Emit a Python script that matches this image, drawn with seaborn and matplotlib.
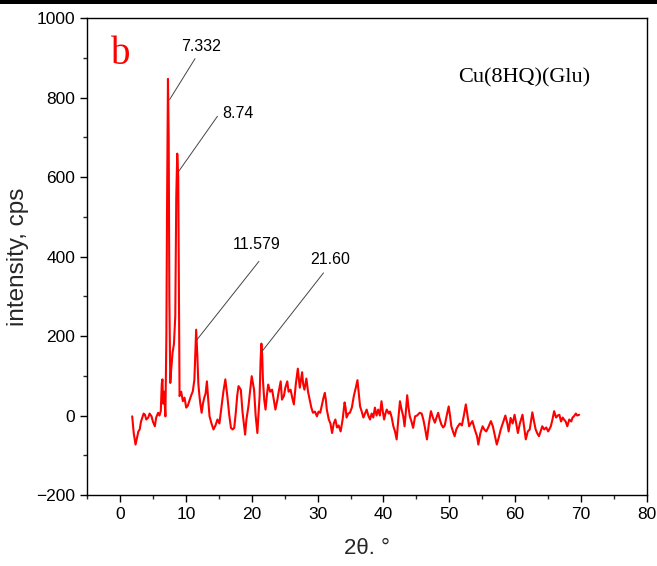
import matplotlib
matplotlib.use("Agg")
import matplotlib.pyplot as plt
import seaborn as sns
import pandas as pd
from matplotlib.patches import Rectangle
from matplotlib.ticker import MultipleLocator

# ---- data ----
two_theta = [
    1.86, 2.1, 2.37, 2.6, 2.8, 3.0, 3.2, 3.4, 3.6, 3.8, 4.0, 4.3, 4.5, 4.8, 5.0, 5.3, 5.5, 5.8, 6.0, 6.2,
    6.35, 6.45, 6.55, 6.7, 6.9, 7.05, 7.15, 7.29, 7.4, 7.5, 7.64, 7.8, 8.0, 8.2, 8.4, 8.55, 8.7, 8.85, 8.95, 9.05,
    9.3, 9.55, 9.8, 10.06, 10.3, 10.6, 10.8, 11.06, 11.3, 11.57, 11.75, 11.9, 12.07, 12.2, 12.4, 12.6, 12.8, 13.0, 13.2, 13.4,
    13.6, 13.9, 14.2, 14.5, 14.8, 15.1, 15.4, 15.7, 16.0, 16.3, 16.6, 16.85, 17.1, 17.35, 17.6, 17.8, 18.0, 18.35, 18.6, 18.8,
    19.0, 19.2, 19.5, 19.75, 20.0, 20.2, 20.36, 20.6, 20.86, 21.05, 21.2, 21.35, 21.47, 21.6, 21.7, 21.9, 22.1, 22.3, 22.5, 22.8,
    23.1, 23.35, 23.6, 23.9, 24.1, 24.4, 24.6, 24.9, 25.1, 25.4, 25.6, 25.9, 26.15, 26.4, 26.7, 27.0, 27.3, 27.65, 27.8, 28.0,
    28.3, 28.55, 28.8, 29.05, 29.3, 29.6, 29.9, 30.15, 30.4, 30.7, 30.9, 31.1, 31.25, 31.4, 31.7, 31.95, 32.2, 32.45, 32.7, 32.95,
    33.2, 33.5, 33.8, 34.1, 34.25, 34.4, 34.65, 34.9, 35.2, 35.5, 35.8, 36.05, 36.25, 36.45, 36.7, 36.95, 37.2, 37.45, 37.7, 37.96,
    38.2, 38.45, 38.7, 38.95, 39.2, 39.45, 39.7, 39.9, 40.1, 40.3, 40.5, 40.8, 41.0, 41.25, 41.5, 41.75, 42.0, 42.25, 42.5, 42.75,
    43.0, 43.2, 43.4, 43.6, 43.8, 44.0, 44.25, 44.5, 44.8, 45.1, 45.5, 45.8, 46.05, 46.3, 46.6, 46.9, 47.2, 47.5, 47.8, 48.05,
    48.3, 48.55, 48.8, 49.05, 49.3, 49.6, 49.9, 50.1, 50.3, 50.55, 50.8, 51.05, 51.3, 51.6, 51.9, 52.2, 52.5, 52.75, 53.0, 53.25,
    53.5, 53.85, 54.2, 54.4, 54.7, 55.05, 55.3, 55.6, 55.9, 56.3, 56.6, 56.9, 57.2, 57.5, 57.8, 58.1, 58.5, 58.8, 59.0, 59.3,
    59.6, 59.9, 60.15, 60.4, 60.7, 61.1, 61.35, 61.6, 61.9, 62.2, 62.6, 62.85, 63.1, 63.35, 63.6, 63.85, 64.1, 64.4, 64.7, 65.0,
    65.4, 65.65, 65.9, 66.2, 66.45, 66.7, 66.95, 67.2, 67.4, 67.65, 67.9, 68.2, 68.5, 68.7, 68.9, 69.2, 69.4, 69.7,
]
intensity = [
    -2, -45, -73, -55, -40, -35, -15, -5, 5, 2, -10, -5, 5, -2, -15, -27, -5, 7, 0, 11,
    80, 91, 30, 60, -2, 200, 520, 847, 700, 300, 82, 120, 160, 180, 250, 550, 659, 600, 300, 49,
    60, 36, 45, 20, 25, 40, 50, 61, 90, 216, 150, 80, 49, 30, 7, 30, 45, 55, 86, 40,
    -2, -20, -35, -25, -10, -20, 20, 60, 91, 49, 0, -31, -35, -31, 10, 50, 74, 65, 10, -20,
    -48, -10, 23, 60, 99, 80, 65, 0, -44, 10, 49, 140, 181, 150, 91, 40, 15, 50, 78, 60,
    65, 40, 15, 40, 60, 86, 40, 50, 70, 86, 60, 65, 45, 28, 80, 118, 70, 109, 80, 65,
    93, 60, 40, 20, 7, 10, -2, 10, 7, 30, 45, 57, 40, 15, -10, -20, -44, -20, -10, -30,
    -25, -40, -10, 33, 20, -5, 5, 7, 20, 49, 70, 89, 55, 23, 10, -5, 5, 15, 0, -10,
    5, -5, 20, 0, 15, 0, 36, 10, -10, 5, 15, 5, 10, -5, -27, -40, -60, -10, 36, 15,
    -2, -27, 10, 51, 20, -2, -15, -31, -2, 0, 7, 5, -10, -31, -60, -20, 11, -5, -18, -5,
    7, -10, -23, -30, -25, 0, 23, 0, -27, -40, -52, -35, -27, -20, -25, 0, 28, 0, -27, -20,
    -14, -35, -52, -73, -45, -27, -35, -40, -30, -14, -27, -50, -73, -55, -35, -20, 0, -20, -40, -6,
    -20, 2, -20, -44, -20, 2, -30, -60, -40, -35, 8, -15, -35, -45, -52, -40, -27, -35, -30, -40,
    -27, -10, 11, -5, 0, 2, -15, -5, -10, -15, -27, -10, -15, -5, -2, 5, 0, 2,
]

peak_labels = ["7.332", "8.74", "11.579", "21.60"]
peak_line_start = [(7.54, 795), (8.9, 614), (11.7, 191), (21.6, 162)]
peak_line_end = [(11.4, 898), (14.8, 753), (21.1, 388), (30.9, 359)]
peak_text_pos = [(9.3, 928), (15.5, 760), (17.1, 430), (28.9, 392)]

x_ticks = [0, 10, 20, 30, 40, 50, 60, 70, 80]
y_ticks = [-200, 0, 200, 400, 600, 800, 1000]
sample_name = "Cu(8HQ)(Glu)"
panel_letter = "b"

df = pd.DataFrame({"two_theta": two_theta, "intensity": intensity})

sns.set_style("ticks")
plt.rcParams["font.family"] = ["Liberation Sans", "DejaVu Sans"]

fig = plt.figure(figsize=(6.57, 5.66), dpi=100)
ax = fig.add_axes([0.1324, 0.1254, 0.8524, 0.8426])

sns.lineplot(data=df, x="two_theta", y="intensity", ax=ax, color="#ff0000",
             linewidth=1.5, sort=False, estimator=None)

for lab, s, e, t in zip(peak_labels, peak_line_start, peak_line_end, peak_text_pos):
    ax.plot([s[0], e[0]], [s[1], e[1]], color="#444444", linewidth=0.7)
    ax.text(t[0], t[1], lab, ha="left", va="center", fontsize=11.5, color="black")

ax.text(-1.3, 908, panel_letter, color="#ff0000", fontsize=28,
        family=["Liberation Serif", "DejaVu Serif"], ha="left", va="center")
ax.text(51.3, 850, sample_name, color="black", fontsize=16,
        family=["Liberation Serif", "DejaVu Serif"], ha="left", va="center")

ax.set_xlim(-5, 80)
ax.set_ylim(-200, 1000)
ax.set_xticks(x_ticks)
ax.set_yticks(y_ticks)
ax.xaxis.set_minor_locator(MultipleLocator(5))
ax.yaxis.set_minor_locator(MultipleLocator(100))
ax.tick_params(axis="both", which="major", direction="out", length=5, width=1,
               labelsize=12.5, colors="black", top=False, right=False)
ax.tick_params(axis="both", which="minor", direction="out", length=3, width=1,
               top=False, right=False)
for sp in ax.spines.values():
    sp.set_visible(True)
    sp.set_color("black")
    sp.set_linewidth(1.0)

ax.set_xlabel("2θ. °", fontsize=16, labelpad=12)
ax.set_ylabel("intensity, cps", fontsize=17.5, labelpad=5)

fig.patches.append(Rectangle((0, 1 - 4 / 566), 1, 4 / 566, transform=fig.transFigure,
                             facecolor="black", edgecolor="none", zorder=10))

fig.savefig("out.png", dpi=100)
